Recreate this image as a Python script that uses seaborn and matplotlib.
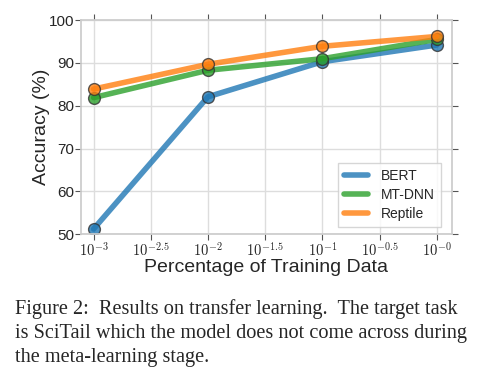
import seaborn as sns
import matplotlib.pyplot as plt
import pandas as pd

# log10 of the fraction of training data
log_fraction = [-3, -2, -1, 0]
bert = [51.2, 82.1, 90.3, 94.2]
mt_dnn = [81.9, 88.3, 91.0, 95.5]
reptile = [83.9, 89.7, 93.9, 96.2]
models = ["BERT", "MT-DNN", "Reptile"]
x_ticks = [-3, -2.5, -2, -1.5, -1, -0.5, 0]
x_tick_labels = [r"$10^{-3}$", r"$10^{-2.5}$", r"$10^{-2}$", r"$10^{-1.5}$",
                 r"$10^{-1}$", r"$10^{-0.5}$", r"$10^{-0}$"]
y_ticks = [50, 60, 70, 80, 90, 100]

caption_lines = [
    "Figure 2:  Results on transfer learning.  The target task",
    "is SciTail which the model does not come across during",
    "the meta-learning stage.",
]

rows = []
for name, vals in zip(models, [bert, mt_dnn, reptile]):
    for x, v in zip(log_fraction, vals):
        rows.append({"x": x, "acc": v, "model": name})
df = pd.DataFrame(rows)

sns.set_theme(style="whitegrid")
plt.rcParams["font.family"] = ["Liberation Sans", "DejaVu Sans"]
plt.rcParams["mathtext.fontset"] = "cm"

fig = plt.figure(figsize=(4.89, 3.74), dpi=100)
ax = fig.add_axes([0.1656, 0.374, 0.758, 0.572])

palette = {"BERT": "#1f77b4", "MT-DNN": "#2ca02c", "Reptile": "#ff7f0e"}
sns.lineplot(data=df, x="x", y="acc", hue="model", palette=palette,
             linewidth=4, alpha=0.8, marker="o", markersize=8.5,
             markeredgecolor="#333333", markeredgewidth=1.0, ax=ax,
             legend=False)

ax.set_xlim(-3.11, 0.13)
ax.set_ylim(50, 100)
ax.set_xticks(x_ticks)
ax.set_xticklabels(x_tick_labels, fontsize=10.5)
ax.set_yticks(y_ticks)
ax.tick_params(axis="y", labelsize=11)
ax.tick_params(axis="both", which="both", direction="out", length=4,
               width=0.8, color="#555555", bottom=True, left=True,
               top=True, right=True, pad=1)
for s in ax.spines.values():
    s.set_color("#cccccc")
ax.grid(color="#dddddd", linewidth=1)
ax.set_xlabel("Percentage of Training Data", fontsize=14, labelpad=0)
ax.set_ylabel("Accuracy (%)", fontsize=14, labelpad=-1)

handles = [plt.Line2D([], [], color=palette[m], lw=4, alpha=0.8) for m in models]
leg = ax.legend(handles, models, loc="lower right", fontsize=10,
                frameon=True, fancybox=False, handlelength=1.7,
                borderpad=0.45, labelspacing=0.35, handletextpad=0.9,
                borderaxespad=0, bbox_to_anchor=(0.970, 0.033))
leg.get_frame().set_edgecolor("#cccccc")

for i, line in enumerate(caption_lines):
    fig.text(15 / 489, 1 - (314 + 24 * i) / 374, line, fontsize=14.6,
             family=["Liberation Serif"], ha="left", va="baseline")

fig.savefig("out.png", dpi=100)
